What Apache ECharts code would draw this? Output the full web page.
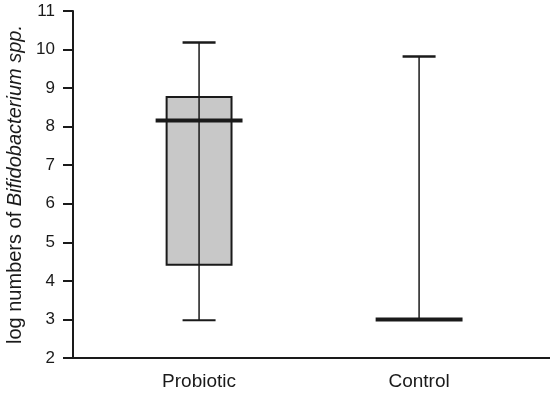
<!DOCTYPE html>
<html><head><meta charset="utf-8">
<script src="https://cdn.jsdelivr.net/npm/echarts@6/dist/echarts.min.js"></script>
<style>html,body{margin:0;padding:0;background:#fff}#c{width:550px;height:394px}</style>
</head><body><div id="c"></div>
<script>
var categories = ['Probiotic', 'Control'];
var whiskerLow = [2.98, 3.0];
var q1 = [4.42, 3.0];
var median = [8.16, 3.0];
var q3 = [8.77, 3.0];
var whiskerHigh = [10.18, 9.82];
var yTicks = [2, 11, 1];

var data = categories.map(function (c, i) {
  return [i + 1, whiskerLow[i], q1[i], median[i], q3[i], whiskerHigh[i]];
});

var FONT = 'Liberation Sans, Arial, sans-serif';
var chart = echarts.init(document.getElementById('c'));
chart.setOption({
  animation: false,
  grid: { left: 73, right: 0, top: 11, bottom: 36, containLabel: false, outerBoundsMode: 'none' },
  xAxis: {
    type: 'value', min: 0.427, max: 2.595,
    splitLine: { show: false },
    axisLine: { show: true, lineStyle: { color: '#1a1a1a', width: 2 } },
    axisTick: { show: false },
    axisLabel: {
      customValues: [1, 2],
      formatter: function (v) { return categories[Math.round(v) - 1] || ''; },
      color: '#1a1a1a', fontSize: 19, fontFamily: FONT, margin: 14
    }
  },
  yAxis: {
    type: 'value', min: yTicks[0], max: yTicks[1], interval: yTicks[2],
    splitLine: { show: false },
    axisLine: { show: true, lineStyle: { color: '#1a1a1a', width: 2 } },
    axisTick: { show: true, length: 10, lineStyle: { color: '#1a1a1a', width: 2 } },
    axisLabel: { color: '#1a1a1a', fontSize: 17, fontFamily: FONT, margin: 18 },
    name: '{n|log numbers of }{i|Bifidobacterium spp.}',
    nameLocation: 'middle', nameRotate: 90, nameGap: 47,
    nameTextStyle: {
      rich: {
        n: { fontSize: 20, color: '#1a1a1a', fontFamily: FONT },
        i: { fontSize: 20, color: '#1a1a1a', fontStyle: 'italic', fontFamily: FONT }
      }
    }
  },
  series: [{
    type: 'custom',
    data: data,
    encode: { x: 0, y: [1, 2, 3, 4, 5] },
    renderItem: function (params, api) {
      var x = api.value(0);
      var pLow = api.coord([x, api.value(1)]);
      var pQ1 = api.coord([x, api.value(2)]);
      var pMed = api.coord([x, api.value(3)]);
      var pQ3 = api.coord([x, api.value(4)]);
      var pHigh = api.coord([x, api.value(5)]);
      var unit = api.size([1, 0])[0];
      var boxW = unit * 0.295;
      var medW = unit * 0.395;
      var capW = unit * 0.075;
      var cx = pLow[0];
      var children = [];
      if (Math.abs(pQ1[1] - pQ3[1]) > 1) {
        children.push({ type: 'rect', shape: { x: cx - boxW / 2, y: pQ3[1], width: boxW, height: pQ1[1] - pQ3[1] },
          style: { fill: '#c8c8c8', stroke: '#1a1a1a', lineWidth: 2 } });
      }
      children.push({ type: 'line', shape: { x1: cx, y1: pHigh[1], x2: cx, y2: pLow[1] },
        style: { stroke: '#1a1a1a', lineWidth: 1.5 } });
      children.push({ type: 'line', shape: { x1: cx - capW, y1: pHigh[1], x2: cx + capW, y2: pHigh[1] },
        style: { stroke: '#1a1a1a', lineWidth: 2.5 } });
      children.push({ type: 'line', shape: { x1: cx - capW, y1: pLow[1], x2: cx + capW, y2: pLow[1] },
        style: { stroke: '#1a1a1a', lineWidth: 2 } });
      children.push({ type: 'line', shape: { x1: cx - medW / 2, y1: pMed[1], x2: cx + medW / 2, y2: pMed[1] },
        style: { stroke: '#1a1a1a', lineWidth: 4 } });
      return { type: 'group', children: children };
    }
  }]
});
</script></body></html>
